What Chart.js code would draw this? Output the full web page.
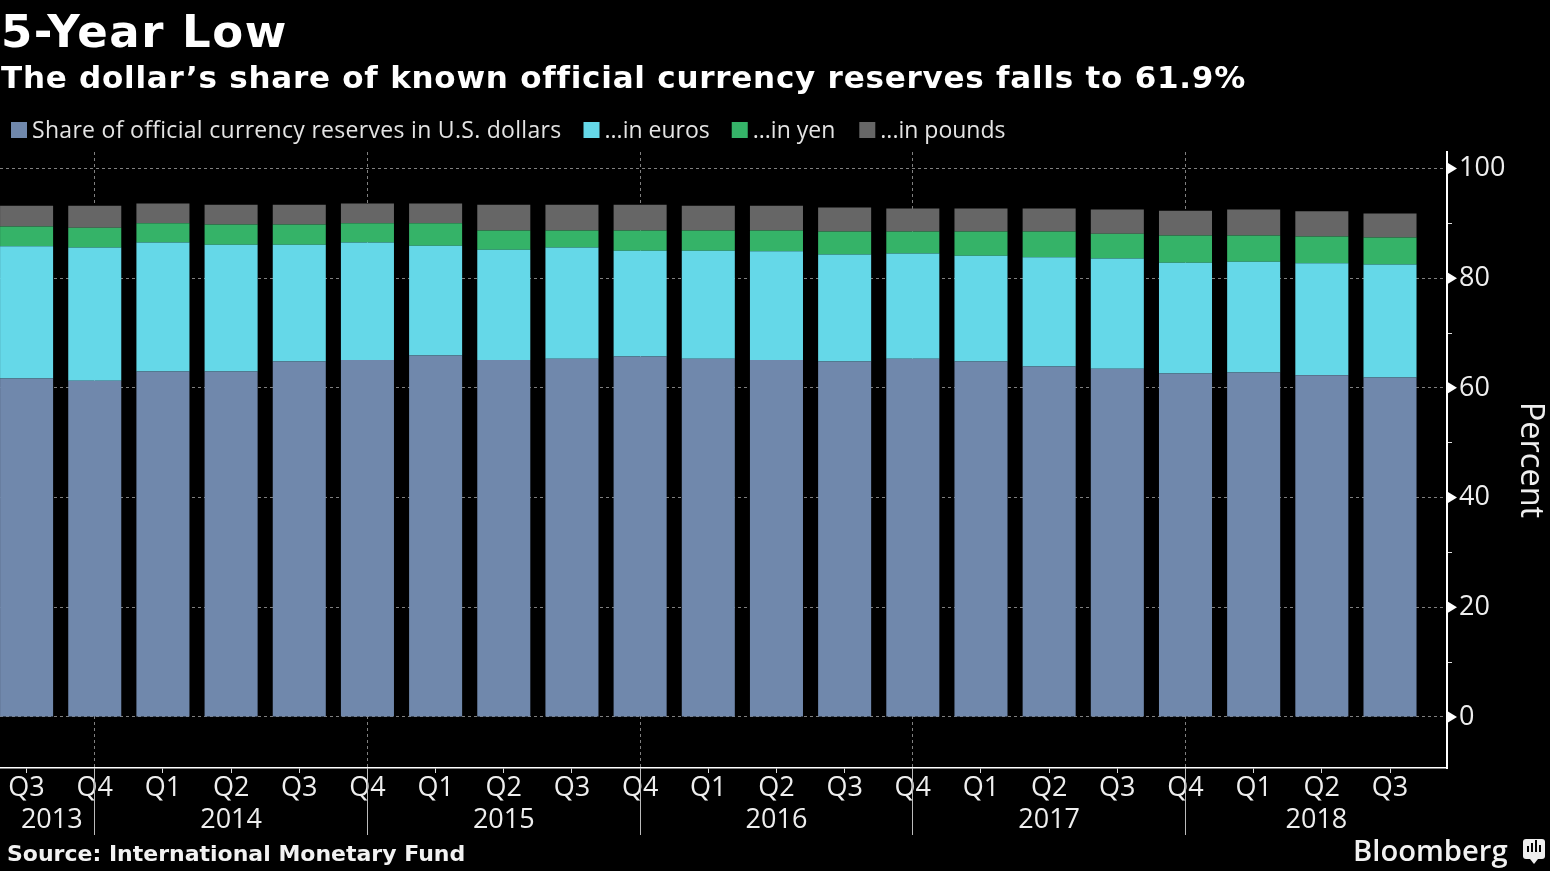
<!DOCTYPE html>
<html><head><meta charset="utf-8">
<style>html,body{margin:0;padding:0;background:#000;overflow:hidden}canvas{display:block}</style>
<script src="https://cdn.jsdelivr.net/npm/chart.js@4"></script>
</head><body><canvas id="c" width="1550" height="871"></canvas>
<script>
const quarters=["Q3","Q4","Q1","Q2","Q3","Q4","Q1","Q2","Q3","Q4","Q1","Q2","Q3","Q4","Q1","Q2","Q3","Q4","Q1","Q2","Q3"];
const years=["2013","2014","2015","2016","2017","2018"];
const yearCenters=[0.37,3,7,11,15,18.92];
const yearDividers=[1,5,9,13,17];
const dollars=[61.7,61.3,63,63,64.8,65.1,65.9,65.1,65.3,65.7,65.3,65.1,64.8,65.3,64.8,63.9,63.5,62.6,62.8,62.3,61.9];
const euros=[24.1,24.3,23.5,23.1,21.3,21.4,20,20.1,20.3,19.3,19.7,19.8,19.5,19.2,19.3,19.9,20.1,20.2,20.2,20.4,20.6];
const yen=[3.6,3.6,3.5,3.7,3.7,3.5,4.1,3.5,3.1,3.7,3.7,3.8,4.2,4,4.4,4.7,4.5,5,4.8,4.9,4.9];
const pounds=[3.8,4,3.6,3.6,3.6,3.6,3.6,4.7,4.7,4.7,4.5,4.5,4.4,4.2,4.2,4.2,4.4,4.5,4.7,4.6,4.4];
const yTicks=[0,10,20,30,40,50,60,70,80,90,100];
const xIdx=quarters.map((q,i)=>i);
const pts=a=>a.map((v,i)=>({x:i,y:v}));
const sans='"Open Sans"';
const decor={id:'decor',afterDraw(ch){
  const c=ch.ctx,x=ch.scales.x,y=ch.scales.y,a=ch.chartArea;
  c.save();
  // heading
  c.textAlign='left';c.textBaseline='alphabetic';c.fillStyle='#fff';
  c.letterSpacing='1.5px';c.font='bold 45px "DejaVu Sans"';c.fillText('5-Year Low',1,47);
  c.letterSpacing='0.76px';c.font='bold 31px "DejaVu Sans"';c.fillText('The dollar\u2019s share of known official currency reserves falls to 61.9%',1,88);
  // legend
  c.font='23px '+sans;
  let lx=11;
  ch.data.datasets.forEach((d,i)=>{
    c.letterSpacing=i===0?'0.3px':'0px';
    c.fillStyle=d.backgroundColor;c.fillRect(lx,122,16,16);
    c.fillStyle='#e4e4e4';c.fillText(d.label,lx+21,138);
    lx+=21+c.measureText(d.label).width+(i===2?24:22);
  });
  c.letterSpacing='0px';
  // axis marks
  c.fillStyle='#fff';
  yTicks.filter(t=>t%20===0).forEach(t=>{const p=y.getPixelForValue(t);
    c.beginPath();c.moveTo(a.right+1,p-5.5);c.lineTo(a.right+10,p);c.lineTo(a.right+1,p+5.5);c.closePath();c.fill();});
  c.strokeStyle='#bbb';c.lineWidth=1;
  yearDividers.forEach(v=>{const p=Math.floor(x.getPixelForValue(v))+.5;c.beginPath();c.moveTo(p,a.bottom);c.lineTo(p,835);c.stroke();});
  c.font='27px '+sans;c.textAlign='center';c.textBaseline='middle';c.fillStyle='#eee';
  years.forEach((t,i)=>c.fillText(t,x.getPixelForValue(yearCenters[i]),820));
  c.textAlign='left';c.fillStyle='#f2f2f2';
  c.font='bold 22px "DejaVu Sans"';c.fillText('Source: International Monetary Fund',7,855);
  c.font='600 29.2px '+sans;c.fillText('Bloomberg',1353,853);
  c.fillStyle='#eee';c.beginPath();c.roundRect(1523,839,22,20,3);c.fill();
  c.beginPath();c.moveTo(1530,859);c.lineTo(1534,864);c.lineTo(1538,859);c.fill();
  c.fillStyle='#000';[[1527,6],[1531,9],[1535,12],[1539,7]].forEach(b=>c.fillRect(b[0],852-b[1],2,b[1]));
  c.restore();
}};
new Chart(document.getElementById('c'),{type:'bar',
 data:{datasets:[
  {label:'Share of official currency reserves in U.S. dollars',data:pts(dollars),backgroundColor:'#7088ac'},
  {label:'...in euros',data:pts(euros),backgroundColor:'#65d8e8'},
  {label:'...in yen',data:pts(yen),backgroundColor:'#35b368'},
  {label:'...in pounds',data:pts(pounds),backgroundColor:'#666666'}]},
 options:{responsive:false,animation:false,devicePixelRatio:1,
  barPercentage:0.778,categoryPercentage:1,
  layout:{padding:{top:152,left:0,right:0,bottom:0}},
  plugins:{tooltip:{enabled:false},title:{display:false},legend:{display:false}},
  scales:{
   x:{type:'linear',stacked:true,offset:false,min:-0.39,max:20.836,
    afterBuildTicks(s){s.ticks=xIdx.map(v=>({value:v}));},
    afterFit(s){s.height=103;},
    grid:{offset:false,color:c=>quarters[c.index]==='Q4'?'#808080':'rgba(0,0,0,0)',tickColor:'#ddd',tickLength:5,lineWidth:1,drawTicks:true},
    border:{color:'#fff',width:1.5,dash:[3,3]},
    ticks:{color:'#eee',autoSkip:false,maxRotation:0,padding:-1,font:{family:sans,size:27},callback:(v,i)=>quarters[i]}
   },
   y:{type:'linear',position:'right',stacked:true,min:-9.3,max:103,
    afterBuildTicks(s){s.ticks=yTicks.map(v=>({value:v}));},
    afterFit(s){s.width=103;},
    grid:{color:c=>c.tick&&c.tick.value%20===0?'#808080':'rgba(0,0,0,0)',tickColor:'#ddd',tickLength:5,lineWidth:1},
    border:{color:'#fff',width:2,dash:[3,3]},
    ticks:{color:'#eee',padding:7,font:{family:sans,size:27},callback:v=>v%20===0?String(v):''},
    title:{display:true,text:'Percent',color:'#eee',font:{family:sans,size:32.5},padding:0}
   }
  }
 },plugins:[decor]});
</script></body></html>
